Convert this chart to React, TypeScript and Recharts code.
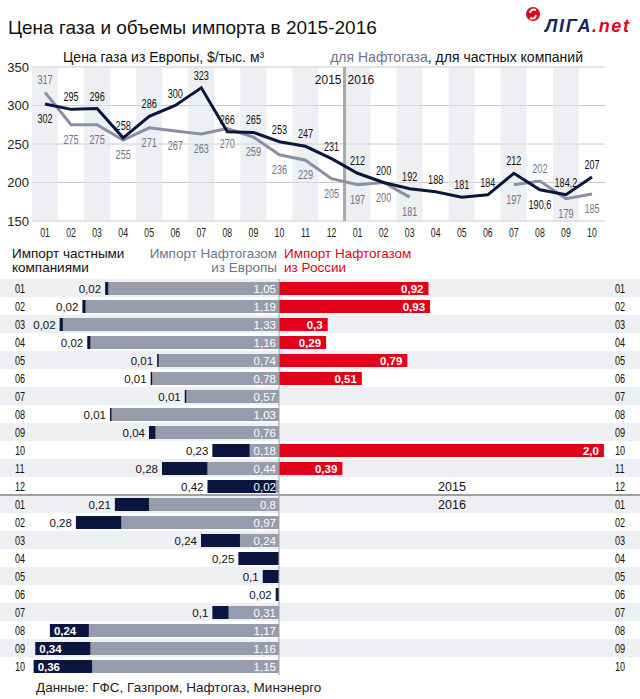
import React from 'react';
import {
  ComposedChart,
  BarChart,
  Bar,
  Line,
  XAxis,
  YAxis,
  CartesianGrid,
  ReferenceArea,
  ReferenceLine,
  LabelList,
} from 'recharts';

// ---------- data ----------
const months2015 = ['01', '02', '03', '04', '05', '06', '07', '08', '09', '10', '11', '12'];
const months2016 = ['01', '02', '03', '04', '05', '06', '07', '08', '09', '10'];
const categories = [...months2015.map((m) => `2015-${m}`), ...months2016.map((m) => `2016-${m}`)];

// price of gas from Europe, $/thousand m3
const naftogazPrice: (number | null)[] = [317, 275, 275, 255, 271, 267, 263, 270, 259, 236, 229, 205, 197, 200, 181, null, null, null, 197, 202, 179, 185];
const privatePrice = [302, 295, 296, 258, 286, 300, 323, 266, 265, 253, 247, 231, 212, 200, 192, 188, 181, 184, 212, 190.6, 184.2, 207];
const priceTicks = [150, 200, 250, 300, 350];

// import volumes, bcm
const privateImport = [0.02, 0.02, 0.02, 0.02, 0.01, 0.01, 0.01, 0.01, 0.04, 0.23, 0.28, 0.42, 0.21, 0.28, 0.24, 0.25, 0.1, 0.02, 0.1, 0.24, 0.34, 0.36];
const europeImport = [1.05, 1.19, 1.33, 1.16, 0.74, 0.78, 0.57, 1.03, 0.76, 0.18, 0.44, 0.02, 0.8, 0.97, 0.24, 0, 0, 0, 0.31, 1.17, 1.16, 1.15];
const russiaImport = [0.92, 0.93, 0.3, 0.29, 0.79, 0.51, 0, 0, 0, 2.0, 0.39, 0, 0, 0, 0, 0, 0, 0, 0, 0, 0, 0];

// ---------- styles ----------
const FONT = '"Liberation Sans", Arial, Helvetica, sans-serif';
const NAVY = '#0b1640';
const GRAY_BAR = '#979bac';
const GRAY_LINE = '#8a8fa3';
const GRAY_TXT = '#6e748a';
const RED = '#e2001a';
const BAND = '#eeeff2';
const COND = 0.7;

const lineData = categories.map((c, i) => ({ cat: c, priv: privatePrice[i], naft: naftogazPrice[i] }));
const barData = categories.map((c, i) => ({
  cat: c,
  europe: -europeImport[i],
  priv: -privateImport[i],
  russia: russiaImport[i],
}));
const isOdd = (c: string) => parseInt(c.slice(5), 10) % 2 === 1;
const oddCats = categories.filter(isOdd);

const fmt = (v: number) => String(v).replace('.', ',');
const fmtI = (v: number) => (Number.isInteger(v) ? v.toFixed(1) : String(v)).replace('.', ',');

const condText = (x: number, y: number, s: string, fill: string, size: number, anchor = 'middle', weight: any = 'normal') => (
  <text
    transform={`translate(${x},${y}) scale(${COND},1)`}
    textAnchor={anchor as any}
    fill={fill}
    fontSize={size}
    fontWeight={weight}
    fontFamily={FONT}
  >
    {s}
  </text>
);

const box = (p: any) => {
  const vb = p.viewBox || {};
  const x = p.x ?? vb.x;
  const y = p.y ?? vb.y;
  const w = p.width ?? vb.width ?? 0;
  const h = p.height ?? vb.height ?? 0;
  return { x: Number(x), y: Number(y), w: Number(w), h: Number(h) };
};

const grayAbove = (i: number) => naftogazPrice[i] != null && (naftogazPrice[i] as number) - privatePrice[i] > 5;

const PrivPriceLabel = (p: any) => {
  const { x, y } = box(p);
  const i = p.index;
  if (i == null || isNaN(x) || isNaN(y)) return null;
  const below = grayAbove(i);
  return condText(x, below ? y + 19 : y - 8, fmt(privatePrice[i]), '#111', 13);
};

const NaftPriceLabel = (p: any) => {
  const { x, y } = box(p);
  const i = p.index;
  if (i == null || isNaN(x) || isNaN(y)) return null;
  const v = naftogazPrice[i];
  if (v == null) return null;
  const above = grayAbove(i);
  return condText(x, above ? y - 8 : y + 19, fmt(v), GRAY_TXT, 13);
};

const MonthTick = (p: any) => condText(p.x, p.y + 8, String(p.payload.value).slice(5), '#222', 12.5);

const DividerShape = (p: any) => {
  const { x, y, height } = p;
  return (
    <g>
      <line x1={x} y1={y} x2={x} y2={y + height} stroke="#a8a8a8" strokeWidth={3} />
      <text x={x - 3} y={y + 17} textAnchor="end" fontSize={12} fill="#111" fontFamily={FONT}>2015</text>
      <text x={x + 3} y={y + 17} textAnchor="start" fontSize={12} fill="#111" fontFamily={FONT}>2016</text>
    </g>
  );
};

// bar labels
const hb = (p: any) => {
  const { x, y, w, h } = box(p);
  return { x0: Math.min(x, x + w), x1: Math.max(x, x + w), cy: y + h / 2 };
};

const EuropeLabel = (p: any) => {
  const v = Math.abs(Number(p.value));
  if (!v) return null;
  const { x1, cy } = hb(p);
  return (
    <text x={x1 - 3} y={cy + 4} textAnchor="end" fill="#fff" fontSize={11.5} fontFamily={FONT}>
      {fmtI(v)}
    </text>
  );
};

const PrivImportLabel = (p: any) => {
  const v = Math.abs(Number(p.value));
  if (!v) return null;
  const { x0, cy } = hb(p);
  if (x0 < 55) {
    return (
      <text x={x0 + 4} y={cy + 4} textAnchor="start" fill="#fff" fontWeight="bold" fontSize={11.5} fontFamily={FONT}>
        {fmtI(v)}
      </text>
    );
  }
  return (
    <text x={x0 - 4} y={cy + 4} textAnchor="end" fill="#111" fontSize={11.5} fontFamily={FONT}>
      {fmtI(v)}
    </text>
  );
};

const RussiaLabel = (p: any) => {
  const v = Math.abs(Number(p.value));
  if (!v) return null;
  const { x1, cy } = hb(p);
  return (
    <text x={x1 - 5} y={cy + 4} textAnchor="end" fill="#fff" fontWeight="bold" fontSize={11.5} fontFamily={FONT}>
      {fmtI(v)}
    </text>
  );
};

const makeRowShape = (cat: string) => (p: any) => {
  const { x, y, width, height } = p;
  const cy = y + height / 2 + 4.5;
  const m = cat.slice(5);
  return (
    <g>
      {isOdd(cat) && <rect x={x} y={y} width={width} height={height} fill={BAND} />}
      {condText(15, cy, m, '#111', 13, 'start')}
      {condText(615, cy, m, '#111', 13, 'start')}
    </g>
  );
};

const YearSepShape = (p: any) => {
  const { x, y, width } = p;
  return (
    <g>
      <line x1={x} y1={y} x2={x + width} y2={y} stroke="#a0a0a0" strokeWidth={2} />
      <text x={452} y={y - 4.5} textAnchor="middle" fontSize={12.5} fill="#111" fontFamily={FONT}>2015</text>
      <text x={452} y={y + 13.5} textAnchor="middle" fontSize={12.5} fill="#111" fontFamily={FONT}>2016</text>
    </g>
  );
};

export default function App() {
  return (
    <div style={{ position: 'absolute', left: 0, top: 0, width: 640, height: 699, background: '#fff', fontFamily: FONT }}>
      <svg width={640} height={699} style={{ position: 'absolute', left: 0, top: 0 }}>
        <text x={8} y={34} fontSize={19} fill="#111" fontFamily={FONT}>Цена газа и объемы импорта в 2015-2016</text>
        {/* logo */}
        <circle cx={533} cy={14} r={7} fill={RED} />
        <path d="M530 13 q1 -5 6 -3 M536 15 q-1 5 -6 3" stroke="#fff" strokeWidth={2} fill="none" />
        <text x={545} y={32} fontSize={18} fontWeight="bold" fontStyle="italic" fontFamily={FONT} textLength={84}>
          <tspan fill="#13275e">ЛIГА</tspan>
          <tspan fill={RED}>.net</tspan>
        </text>
        <text x={63} y={62} fontSize={14} fill="#111" fontFamily={FONT}>Цена газа из Европы, $/тыс. м³</text>
        <text x={583} y={62} fontSize={14} textAnchor="end" fontFamily={FONT}>
          <tspan fill={GRAY_TXT}>для Нафтогаза</tspan>
          <tspan fill="#111">, для частных компаний</tspan>
        </text>
        {/* bar headers */}
        <text x={12} y={258} fontSize={13.5} fill="#111" fontFamily={FONT}>Импорт частными</text>
        <text x={12} y={272} fontSize={13.5} fill="#111" fontFamily={FONT}>компаниями</text>
        <text x={277} y={258} fontSize={13.5} fill={GRAY_TXT} textAnchor="end" fontFamily={FONT}>Импорт Нафтогазом</text>
        <text x={277} y={272} fontSize={13.5} fill={GRAY_TXT} textAnchor="end" fontFamily={FONT}>из Европы</text>
        <text x={284} y={258} fontSize={13.5} fill={RED} fontFamily={FONT}>Импорт Нафтогазом</text>
        <text x={284} y={272} fontSize={13.5} fill={RED} fontFamily={FONT}>из России</text>
        <text x={36} y={692} fontSize={13.5} fill="#222" fontFamily={FONT}>Данные: ГФС, Газпром, Нафтогаз, Минэнерго</text>
      </svg>

      <div style={{ position: 'absolute', left: 0, top: 0 }}>
        <ComposedChart width={640} height={245} data={lineData} margin={{ top: 67, right: 0, bottom: 0, left: 0 }}>
          {oddCats.map((c) => (
            <ReferenceArea key={c} x1={c} x2={c} yAxisId="l" fill="#dfe1e7" fillOpacity={0.55} stroke="none" ifOverflow="visible" />
          ))}
          <CartesianGrid yAxisId="l" vertical={false} stroke="#c8c8c8" />
          <XAxis dataKey="cat" scale="band" interval={0} axisLine={false} tickLine={false} height={24} tick={<MonthTick />} />
          <YAxis
            yAxisId="l"
            orientation="left"
            width={32}
            domain={[150, 350]}
            ticks={priceTicks}
            axisLine={false}
            tickLine={false}
            tickSize={0}
            tickMargin={3}
            tick={{ fontSize: 13, fill: '#222', fontFamily: FONT }}
          />
          <YAxis
            yAxisId="r"
            orientation="right"
            width={35}
            domain={[150, 350]}
            ticks={priceTicks}
            axisLine={false}
            tickLine={false}
            tickSize={0}
            tickMargin={3}
            tick={{ fontSize: 13, fill: '#222', fontFamily: FONT }}
          />
          <ReferenceArea x1="2016-01" x2="2016-01" yAxisId="l" shape={DividerShape} ifOverflow="visible" />
          <Line yAxisId="l" dataKey="naft" stroke={GRAY_LINE} strokeWidth={3} dot={false} isAnimationActive={false} connectNulls={false}>
            <LabelList dataKey="naft" content={NaftPriceLabel} />
          </Line>
          <Line yAxisId="l" dataKey="priv" stroke={NAVY} strokeWidth={3} dot={false} isAnimationActive={false}>
            <LabelList dataKey="priv" content={PrivPriceLabel} />
          </Line>
        </ComposedChart>
      </div>

      <div style={{ position: 'absolute', left: 0, top: 279 }}>
        <BarChart
          width={640}
          height={396}
          data={barData}
          layout="vertical"
          stackOffset="sign"
          margin={{ top: 0, right: 0, bottom: 0, left: 0 }}
        >
          {categories.map((c) => (
            <ReferenceArea key={c} y1={c} y2={c} yAxisId="left" shape={makeRowShape(c)} ifOverflow="visible" />
          ))}
          <XAxis type="number" hide domain={[-1.717, 2.222]} allowDataOverflow />
          <YAxis yAxisId="left" type="category" dataKey="cat" hide />
          <ReferenceLine x={0} yAxisId="left" stroke="#a0a0a0" strokeWidth={1} />
          <Bar yAxisId="left" dataKey="europe" stackId="a" fill={GRAY_BAR} barSize={13} isAnimationActive={false}>
            <LabelList dataKey="europe" content={EuropeLabel} />
          </Bar>
          <Bar yAxisId="left" dataKey="priv" stackId="a" fill={NAVY} barSize={13} isAnimationActive={false}>
            <LabelList dataKey="priv" content={PrivImportLabel} />
          </Bar>
          <Bar yAxisId="left" dataKey="russia" stackId="a" fill={RED} barSize={13} isAnimationActive={false}>
            <LabelList dataKey="russia" content={RussiaLabel} />
          </Bar>
          <ReferenceArea y1="2016-01" y2="2016-01" yAxisId="left" shape={YearSepShape} ifOverflow="visible" />
        </BarChart>
      </div>
    </div>
  );
}
